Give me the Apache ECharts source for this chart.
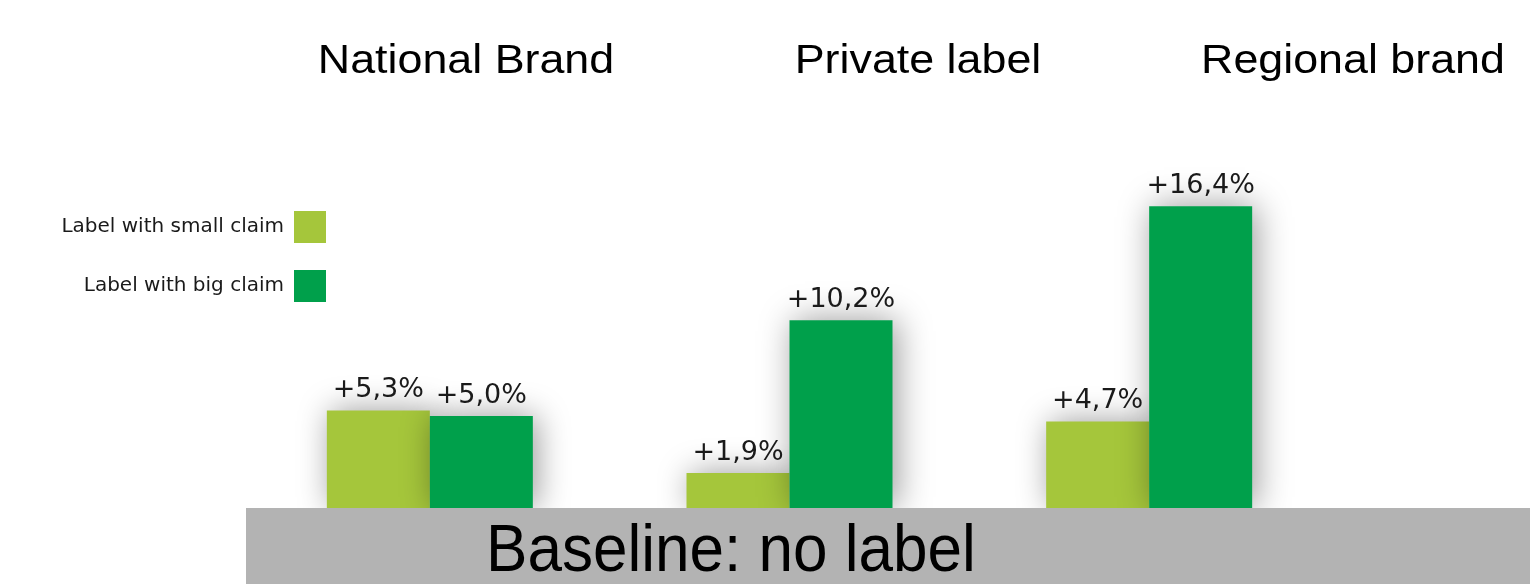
<!DOCTYPE html>
<html>
<head>
<meta charset="utf-8">
<script src="https://cdn.jsdelivr.net/npm/echarts@6/dist/echarts.min.js"></script>
<style>
  html, body { margin: 0; padding: 0; background: #fff; }
  #claimChart { width: 1530px; height: 584px; }
</style>
</head>
<body>
<div id="claimChart"></div>
<script>
const categories = ["National Brand", "Private label", "Regional brand"];
const seriesNames = ["Label with small claim", "Label with big claim"];
const smallClaim = [5.3, 1.9, 4.7];
const bigClaim = [5.0, 10.2, 16.4];
const baselineText = "Baseline: no label";
const titleCenters = [466, 918, 1353];

const colors = ["#A5C63B", "#00A04B"];
const fmt = (v) => "+" + v.toFixed(1).replace(".", ",") + "%";

let claimChart = echarts.init(document.getElementById("claimChart"));

const barStyle = (color) => ({
  type: "bar",
  barWidth: 103,
  barGap: "0%",
  itemStyle: {
    color: color,
    shadowBlur: 32,
    shadowOffsetX: 4,
    shadowColor: "rgba(0,0,0,0.4)",
  },
  label: {
    show: true,
    position: "top",
    distance: 7,
    color: "#1a1a1a",
    fontFamily: "DejaVu Sans",
    fontSize: 27,
    formatter: (p) => fmt(p.value),
  },
});

claimChart.setOption({
  animation: false,
  grid: { left: 250, right: 201, top: 140, bottom: 76 },
  xAxis: {
    type: "category",
    data: categories,
    show: false,
  },
  yAxis: {
    type: "value",
    min: 0,
    max: 20,
    show: false,
  },
  legend: {
    orient: "vertical",
    align: "right",
    right: 1204,
    top: 211,
    padding: 0,
    itemWidth: 32,
    itemHeight: 32,
    itemGap: 27,
    icon: "rect",
    textStyle: {
      color: "#1a1a1a",
      fontFamily: "DejaVu Sans",
      fontSize: 20,
      padding: [0, 5, 0, 0],
    },
    data: seriesNames,
  },
  graphic: [
    {
      type: "rect",
      z: 100,
      shape: { x: 246, y: 508, width: 1284, height: 76 },
      style: { fill: "#B3B3B3" },
    },
    {
      type: "text",
      z: 101,
      x: 731,
      y: 553,
      scaleX: 0.94,
      style: {
        text: baselineText,
        fill: "#000",
        font: '66px "Liberation Sans"',
        textAlign: "center",
        textVerticalAlign: "middle",
      },
    },
  ].concat(
    categories.map((c, i) => ({
      type: "text",
      x: titleCenters[i],
      y: 62,
      scaleX: 1.12,
      style: {
        text: c,
        fill: "#000",
        font: '40px "Liberation Sans"',
        textAlign: "center",
        textVerticalAlign: "middle",
      },
    }))
  ),
  series: [
    Object.assign(barStyle(colors[0]), { name: seriesNames[0], data: smallClaim }),
    Object.assign(barStyle(colors[1]), { name: seriesNames[1], data: bigClaim }),
  ],
});
</script>
</body>
</html>
